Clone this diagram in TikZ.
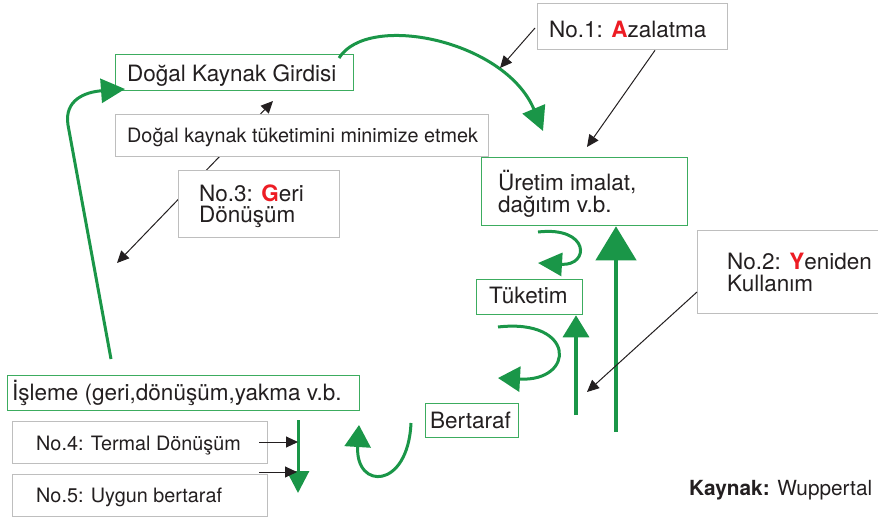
\documentclass[tikz,border=0pt]{standalone}
\usepackage{fontspec}
\setmainfont{TeX Gyre Heros}
\usetikzlibrary{arrows.meta,calc}

\definecolor{ecogreen}{RGB}{26,150,72}
\definecolor{frame}{RGB}{60,172,95}
\definecolor{accent}{RGB}{237,28,36}
\definecolor{boxgray}{RGB}{190,190,190}
\definecolor{ink}{RGB}{35,31,32}

\begin{document}
\begin{tikzpicture}[x=1pt,y=-1pt,
  gbox/.style={draw=frame, line width=1.3pt, fill=white, inner sep=0pt, anchor=north west},
  graybox/.style={draw=boxgray, line width=1.3pt, fill=white, inner sep=0pt, anchor=north west},
  lbl/.style={anchor=base west, inner sep=0pt, text=ink, font=\fontsize{22.5}{21}\selectfont},
  smalllbl/.style={anchor=base west, inner sep=0pt, text=ink, font=\fontsize{19.8}{21}\selectfont},
  flow/.style={draw=ecogreen, line width=3pt},
  bighead/.style={-{Triangle[length=24pt,width=24pt]}},
  pointer/.style={draw=ink, line width=1pt, -{Triangle[length=12pt,width=11pt]}},
]
\useasboundingbox (0,0) rectangle (878,520);
\clip (0,0) rectangle (878,520);

% diagonal pointer of No.3 (runs behind the boxes)
\coordinate (r3low) at (117,263);
\coordinate (r3high) at (273,101);
\draw[draw=ink, line width=1pt, {Triangle[length=12pt,width=11pt]}-{Triangle[length=12pt,width=11pt]}] (r3low) -- (r3high);

% ---------- boxes ----------
\node[gbox, minimum width=238pt, minimum height=36pt] (input) at (115,54) {};
\node[graybox, minimum width=373pt, minimum height=42pt] (minimize) at (115,114) {};
\node[graybox, minimum width=161pt, minimum height=67pt] (no3) at (178,170) {};
\node[graybox, minimum width=190pt, minimum height=46pt] (no1) at (537,3) {};
\node[gbox, minimum width=206pt, minimum height=68pt] (prod) at (481,157) {};
\node[graybox, minimum width=200pt, minimum height=83pt] (no2) at (697,230) {};
\node[gbox, minimum width=106pt, minimum height=35pt] (cons) at (476,279) {};
\node[gbox, minimum width=93pt, minimum height=34pt] (disp) at (425,403) {};
\node[gbox, minimum width=352pt, minimum height=35pt] (proc) at (7,375) {};
\node[graybox, minimum width=255pt, minimum height=42pt] (no4) at (12,421) {};
\node[graybox, minimum width=255pt, minimum height=42pt] (no5) at (12,474) {};

% ---------- texts ----------
\node[lbl] (tinput) at (127,81) {Doğal Kaynak Girdisi};
\node[smalllbl] (tmin) at (127,142) {Doğal kaynak tüketimini minimize etmek};
\node[lbl] (tno3a) at (199,201) {No.3: \textbf{\color{accent}G}eri};
\node[lbl] (tno3b) at (199,222) {Dönüşüm};
\node[lbl] (tno1) at (549,37) {No.1: \textbf{\color{accent}A}zalatma};
\node[lbl] (tprod1) at (498,190) {Üretim imalat,};
\node[lbl] (tprod2) at (498,212) {dağıtım v.b.};
\node[lbl] (tno2a) at (727,269) {No.2: \textbf{\color{accent}Y}eniden};
\node[lbl] (tno2b) at (727,291) {Kullanım};
\node[lbl] (tcons) at (489,303) {Tüketim};
\node[lbl] (tdisp) at (430,428) {Bertaraf};
\node[lbl] (tproc) at (12,400) {İşleme (geri,dönüşüm,yakma v.b.};
\node[smalllbl] (tno4) at (36,450) {No.4: Termal Dönüşüm};
\node[smalllbl] (tno5) at (36,502) {No.5: Uygun bertaraf};
\node[anchor=base west, inner sep=0pt, text=ink, font=\fontsize{20.8}{24}\selectfont] (source) at (689,495) {\textbf{Kaynak:} Wuppertal Institut};

% ---------- green flows ----------
% natural input feeds production
\coordinate (inStart) at (339,58);
\coordinate (inEnd) at (543,131);
\draw[flow, bighead] (inStart) .. controls (368,12) and (505,40) .. (inEnd);

% processing returns to natural input
\coordinate (procTop) at (111,359);
\coordinate (bendL) at (68,125);
\coordinate (inLeft) at (125,89);
\draw[flow, bighead] (procTop) -- (bendL) .. controls (64,100) and (85,92) .. (inLeft);

% production to consumption
\coordinate (loopAs) at (538,232);
\coordinate (loopAe) at (538,263);
\draw[flow, -{Triangle[length=24pt,width=23pt]}] (loopAs) .. controls (590,226) and (590,266) .. (loopAe);

% consumption to disposal
\coordinate (loopBs) at (498,327);
\coordinate (loopBe) at (498,378);
\draw[flow, -{Triangle[length=22pt,width=25pt]}] (loopBs) .. controls (576,318) and (576,382) .. (loopBe);

% disposal to processing
\coordinate (loopCs) at (411,423);
\coordinate (loopCe) at (359,425);
\draw[flow, -{Triangle[length=22pt,width=26pt]}] (loopCs) .. controls (408,490) and (355,490) .. (loopCe);

% reuse paths back up
\coordinate (reuseBot) at (576,415);
\draw[draw=ecogreen, line width=3.5pt, -{Triangle[length=22pt,width=26pt]}] (reuseBot) -- (cons.south -| reuseBot);
\coordinate (recBot) at (616,432);
\draw[draw=ecogreen, line width=4.5pt, -{Triangle[length=34pt,width=40pt]}] (recBot) -- (prod.south -| recBot);

% processing output
\coordinate (outTop) at (298,420);
\coordinate (outEnd) at (298,493);
\draw[flow, -{Triangle[length=22pt,width=22pt]}] (outTop) -- (outEnd);

% ---------- black pointers ----------
\coordinate (p1a) at (500,68);
\coordinate (p1b) at (587,147);
\draw[pointer] (no1.west |- 0,28) ++(-2,0) -- (p1a);
\draw[pointer] ($(no1.south west)+(118,0)$) -- (p1b);
\coordinate (p2) at (587,392);
\draw[pointer] (no2.west |- 0,292) -- (p2);
\coordinate (p4s) at (259,442);
\coordinate (p4e) at (298,442);
\coordinate (p5s) at (259,472);
\coordinate (p5e) at (297,472);
\draw[pointer] (p4s) -- (p4e);
\draw[pointer] (p5s) -- (p5e);
\end{tikzpicture}
\end{document}
